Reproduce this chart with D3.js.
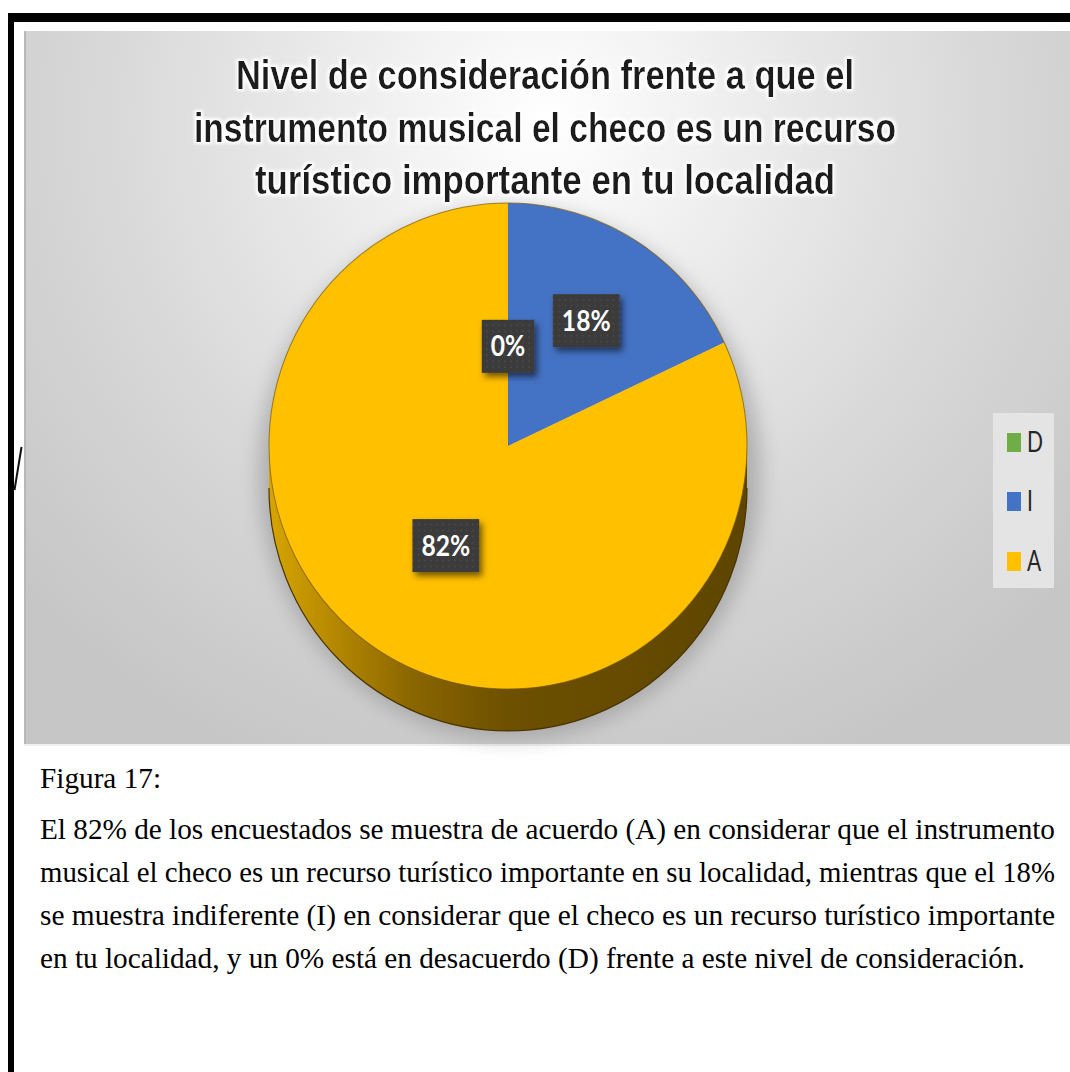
<!DOCTYPE html>
<html><head><meta charset="utf-8">
<script src="https://cdn.jsdelivr.net/npm/d3@7"></script>
<style>html,body{margin:0;padding:0;background:#fff;overflow:hidden}</style>
</head><body>
<svg id="c" width="1070" height="1072"></svg>
<script>
// ---------- data ----------
const categories = ["D", "I", "A"];
const values = [0, 18, 82];
const valueLabels = ["0%", "18%", "82%"];
const colors = ["#70AD47", "#4472C4", "#FFC000"];
const titleLines = [
  "Nivel de consideración frente a que el",
  "instrumento musical el checo es un recurso",
  "turístico importante en tu localidad"
];
const captionTitle = "Figura 17:";
const captionLines = [
  "El 82% de los encuestados se muestra de acuerdo (A) en considerar que el instrumento",
  "musical el checo es un recurso turístico importante en su localidad, mientras que el 18%",
  "se muestra indiferente (I) en considerar que el checo es un recurso turístico importante",
  "en tu localidad, y un 0% está en desacuerdo (D) frente a este nivel de consideración."
];

// ---------- layout ----------
const W = 1070, H = 1072;
const chart = {x: 24, y: 31, w: 1060, h: 713};
const pie = {cx: 508, cy: 446, rx: 239, ry: 243, depth: 42};
const labelR = [98, 146, 116];
const squeeze = 0.75;
const titleBase = [89, 142, 194];
const titleWidth = [618, 702, 580];

const svg = d3.select("#c");
const defs = svg.append("defs");

const bg = defs.append("radialGradient").attr("id", "bg")
  .attr("gradientUnits", "userSpaceOnUse").attr("cx", 545).attr("cy", 120).attr("r", 700);
[[0, "#ffffff"], [0.3, "#ececec"], [0.65, "#d7d7d7"], [1, "#c6c6c6"]]
  .forEach(s => bg.append("stop").attr("offset", s[0]).attr("stop-color", s[1]));

const sg = defs.append("linearGradient").attr("id", "side")
  .attr("gradientUnits", "userSpaceOnUse")
  .attr("x1", pie.cx - pie.rx).attr("x2", pie.cx + pie.rx).attr("y1", 0).attr("y2", 0);
[[0, "#d6a500"], [0.12, "#b98b00"], [0.3, "#8a6600"], [0.5, "#6d5000"], [1, "#5e4500"]]
  .forEach(s => sg.append("stop").attr("offset", s[0]).attr("stop-color", s[1]));

defs.append("filter").attr("id", "blur").attr("x", "-20%").attr("y", "-20%").attr("width", "140%").attr("height", "140%")
  .append("feGaussianBlur").attr("stdDeviation", 10);

const halo = defs.append("filter").attr("id", "halo").attr("filterUnits", "userSpaceOnUse")
  .attr("x", 0).attr("y", 0).attr("width", W).attr("height", 260);
halo.append("feMorphology").attr("in", "SourceAlpha").attr("operator", "dilate").attr("radius", 2).attr("result", "d");
halo.append("feGaussianBlur").attr("in", "d").attr("stdDeviation", 1.5).attr("result", "db");
halo.append("feFlood").attr("flood-color", "#ffffff").attr("result", "w");
halo.append("feComposite").attr("in", "w").attr("in2", "db").attr("operator", "in").attr("result", "glow");
const hm = halo.append("feMerge");
hm.append("feMergeNode").attr("in", "glow");
hm.append("feMergeNode").attr("in", "SourceGraphic");

defs.append("filter").attr("id", "drop").attr("x", "-30%").attr("y", "-30%").attr("width", "160%").attr("height", "160%")
  .append("feDropShadow").attr("dx", 3).attr("dy", 4).attr("stdDeviation", 3)
  .attr("flood-color", "#000").attr("flood-opacity", 0.55);

const pat = defs.append("pattern").attr("id", "dots").attr("patternUnits", "userSpaceOnUse")
  .attr("width", 6).attr("height", 6);
pat.append("rect").attr("width", 6).attr("height", 6).attr("fill", "#3a3a3a");
pat.append("circle").attr("cx", 3).attr("cy", 3).attr("r", 0.8).attr("fill", "#555");

// ---------- page frame ----------
svg.append("rect").attr("width", W).attr("height", H).attr("fill", "#fff");
svg.append("rect").attr("x", 8).attr("y", 13).attr("width", W - 8).attr("height", 9).attr("fill", "#000");
svg.append("rect").attr("x", 8).attr("y", 13).attr("width", 6).attr("height", H - 13).attr("fill", "#000");

svg.append("rect").attr("x", chart.x).attr("y", chart.y).attr("width", chart.w).attr("height", chart.h)
  .attr("fill", "url(#bg)");
svg.append("rect").attr("x", chart.x).attr("y", chart.y).attr("width", 2).attr("height", chart.h)
  .attr("fill", "#b8b8b8");
svg.append("rect").attr("x", chart.x).attr("y", chart.y + chart.h).attr("width", chart.w).attr("height", 2)
  .attr("fill", "#efefef");

svg.append("line").attr("x1", 21.5).attr("y1", 447).attr("x2", 14.5).attr("y2", 490)
  .attr("stroke", "#111").attr("stroke-width", 2);

// ---------- pie ----------
const k = pie.ry / pie.rx;
svg.append("ellipse").attr("cx", pie.cx + 2).attr("cy", pie.cy + 28)
  .attr("rx", pie.rx + 12).attr("ry", pie.ry + 22)
  .attr("fill", "#8a8a8a").attr("opacity", 0.55).attr("filter", "url(#blur)");

svg.append("path")
  .attr("d", `M${pie.cx - pie.rx},${pie.cy} L${pie.cx - pie.rx},${pie.cy + pie.depth} ` +
    `A${pie.rx},${pie.ry} 0 0 0 ${pie.cx + pie.rx},${pie.cy + pie.depth} L${pie.cx + pie.rx},${pie.cy} Z`)
  .attr("fill", "url(#side)");
svg.append("path")
  .attr("d", `M${pie.cx - pie.rx},${pie.cy + pie.depth} A${pie.rx},${pie.ry} 0 0 0 ${pie.cx + pie.rx},${pie.cy + pie.depth}`)
  .attr("fill", "none").attr("stroke", "#4a3500").attr("stroke-width", 1.2);

const pieGen = d3.pie().sort(null).value(d => d).startAngle(0).endAngle(2 * Math.PI);
const arcs = pieGen(values);
const arcGen = d3.arc().innerRadius(0).outerRadius(pie.rx);
const face = svg.append("g").attr("transform", `translate(${pie.cx},${pie.cy}) scale(1,${k})`);
face.selectAll("path").data(arcs).join("path")
  .attr("d", arcGen)
  .attr("fill", (d, i) => colors[i]);
face.append("ellipse").attr("rx", pie.rx).attr("ry", pie.rx)
  .attr("fill", "none").attr("stroke", "#7a5a00").attr("stroke-width", 1).attr("stroke-opacity", 0.7);

const lg = svg.append("g");
arcs.forEach((a, i) => {
  const mid = (a.startAngle + a.endAngle) / 2;
  const x = pie.cx + labelR[i] * Math.sin(mid);
  const y = pie.cy - labelR[i] * Math.cos(mid) * k;
  const g = lg.append("g").attr("transform", `translate(${x},${y})`);
  const box = g.append("rect").attr("fill", "url(#dots)").attr("filter", "url(#drop)");
  const t = g.append("text").attr("text-anchor", "middle").attr("y", 10)
    .attr("font-family", "Lato, 'Open Sans', sans-serif").attr("font-weight", "bold")
    .attr("font-size", 28).attr("fill", "#fff").text(valueLabels[i]);
  const w = t.node().getComputedTextLength() * 0.88;
  t.attr("textLength", w).attr("lengthAdjust", "spacingAndGlyphs");
  const bw = w + 18, bh = 53;
  box.attr("x", -bw / 2).attr("y", -bh / 2).attr("width", bw).attr("height", bh);
});

// ---------- title (drawn above the pie) ----------
const tg = svg.append("g").attr("filter", "url(#halo)");
tg.selectAll("text").data(titleLines).join("text")
  .attr("x", 545).attr("y", (d, i) => titleBase[i])
  .attr("text-anchor", "middle")
  .attr("font-family", "'Liberation Sans', Arial, sans-serif")
  .attr("font-weight", "bold").attr("font-size", 40).attr("fill", "#1e1e1e")
  .attr("textLength", (d, i) => titleWidth[i]).attr("lengthAdjust", "spacingAndGlyphs")
  .text(d => d);

// ---------- legend ----------
const leg = svg.append("g");
leg.append("rect").attr("x", 993).attr("y", 413).attr("width", 61).attr("height", 175).attr("fill", "#e4e4e4");
const legBase = [452, 511, 571];
categories.forEach((c, i) => {
  leg.append("rect").attr("x", 1007).attr("y", legBase[i] - 19).attr("width", 14).attr("height", 19)
    .attr("fill", colors[i]);
  const t = leg.append("text").attr("x", 1027).attr("y", legBase[i])
    .attr("font-family", "Lato, 'Open Sans', sans-serif").attr("font-size", 28).attr("fill", "#262626").text(c);
  const w = t.node().getComputedTextLength() * squeeze;
  t.attr("textLength", w).attr("lengthAdjust", "spacingAndGlyphs");
});

// ---------- caption ----------
const cap = svg.append("g").attr("font-family", "'Liberation Serif', 'Times New Roman', serif")
  .attr("font-size", 29).attr("fill", "#000");
const capTitle = cap.append("text").attr("x", 40).attr("y", 788).text(captionTitle);
const capBase = [839, 882, 925, 968];
const cl = cap.selectAll("text.l").data(captionLines).join("text").attr("class", "l")
  .attr("x", 40).attr("y", (d, i) => capBase[i]).text(d => d);
const c0 = cl.nodes()[0].getComputedTextLength();
const cf = 1015 / c0;
cl.each(function (d, i) {
  const w = this.getComputedTextLength();
  d3.select(this).attr("textLength", i < 3 ? 1015 : Math.min(1015, w * cf)).attr("lengthAdjust", "spacingAndGlyphs");
});
capTitle.attr("textLength", capTitle.node().getComputedTextLength() * cf).attr("lengthAdjust", "spacingAndGlyphs");
</script>
</body></html>
